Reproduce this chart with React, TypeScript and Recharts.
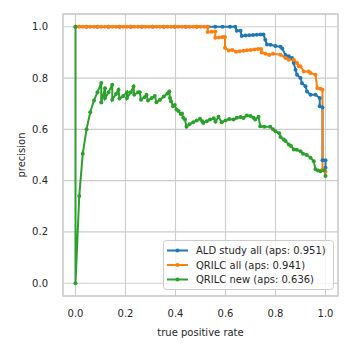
import React from "react";
import {
  LineChart,
  Line,
  XAxis,
  YAxis,
  CartesianGrid,
  ReferenceArea,
  Legend,
} from "recharts";

const xTicks = [0, 0.2, 0.4, 0.6, 0.8, 1.0];
const yTicks = [0, 0.2, 0.4, 0.6, 0.8, 1.0];

const seriesNames = [
  "ALD study all (aps: 0.951)",
  "QRILC all (aps: 0.941)",
  "QRILC new (aps: 0.636)",
];

// ALD study all
const aldRecall = [
  0, 0.044, 0.088, 0.132, 0.176, 0.221, 0.265, 0.309, 0.353, 0.397, 0.441, 0.485, 0.529, 0.559,
  0.588, 0.618, 0.639, 0.645, 0.66, 0.665, 0.68, 0.695, 0.71, 0.725, 0.74, 0.752, 0.759, 0.766,
  0.78, 0.8, 0.82, 0.827, 0.84, 0.853, 0.866, 0.873, 0.88, 0.886, 0.9, 0.906, 0.92, 0.926, 0.94,
  0.96, 0.977, 0.977, 0.988, 0.988, 1.0, 1.0,
];
const aldPrecision = [
  1, 1, 1, 1, 1, 1, 1, 1, 1, 1, 1, 1, 1, 1,
  1, 1, 1, 0.985, 0.985, 0.964, 0.966, 0.967, 0.968, 0.969, 0.97, 0.97, 0.95, 0.931,
  0.93, 0.925, 0.922, 0.915, 0.89, 0.885, 0.878, 0.859, 0.833, 0.813, 0.8, 0.78, 0.768, 0.748, 0.735,
  0.735, 0.722, 0.69, 0.685, 0.48, 0.48, 0.45,
];

// QRILC all
const qrilcAllRecall = [
  0, 0.015, 0.029, 0.044, 0.059, 0.074, 0.088, 0.103, 0.118, 0.132, 0.147, 0.162, 0.176, 0.191,
  0.206, 0.221, 0.235, 0.25, 0.265, 0.279, 0.294, 0.309, 0.324, 0.338, 0.353, 0.368, 0.382, 0.397,
  0.412, 0.426, 0.441, 0.456, 0.471, 0.485, 0.5, 0.515, 0.529,
  0.529, 0.544, 0.559, 0.559, 0.574, 0.588, 0.598, 0.598, 0.613, 0.627, 0.642, 0.657, 0.672, 0.686,
  0.701, 0.716, 0.73, 0.742, 0.745, 0.76, 0.775, 0.79, 0.82, 0.84, 0.853, 0.873, 0.886, 0.893,
  0.9, 0.913, 0.933, 0.94, 0.96, 0.967, 0.98, 0.988, 0.988, 1.0,
];
const qrilcAllPrecision = [
  1, 1, 1, 1, 1, 1, 1, 1, 1, 1, 1, 1, 1, 1,
  1, 1, 1, 1, 1, 1, 1, 1, 1, 1, 1, 1, 1, 1,
  1, 1, 1, 1, 1, 1, 1, 1, 1,
  0.98, 0.981, 0.982, 0.957, 0.958, 0.96, 0.96, 0.918, 0.908, 0.91, 0.903, 0.905, 0.907, 0.909,
  0.91, 0.912, 0.913, 0.913, 0.9, 0.895, 0.89, 0.895, 0.891, 0.878, 0.872, 0.872, 0.859, 0.846,
  0.846, 0.826, 0.826, 0.82, 0.813, 0.761, 0.758, 0.755, 0.444, 0.435,
];

// QRILC new
const qrilcNewRecall = [
  0, 0, 0.015, 0.029, 0.044, 0.059, 0.074, 0.088, 0.103, 0.103, 0.118, 0.118, 0.132, 0.147, 0.147,
  0.162, 0.172, 0.176, 0.191, 0.206, 0.206, 0.221, 0.232, 0.235, 0.25, 0.257, 0.262, 0.276, 0.284,
  0.29, 0.305, 0.317, 0.324, 0.338, 0.353, 0.368, 0.375, 0.378, 0.382, 0.39, 0.397, 0.404, 0.412,
  0.421, 0.426, 0.431, 0.438, 0.444, 0.456, 0.471, 0.485, 0.498, 0.507, 0.511, 0.525, 0.538, 0.553,
  0.56, 0.572, 0.585, 0.6, 0.615, 0.632, 0.645, 0.66, 0.672, 0.685, 0.7, 0.712, 0.719, 0.732,
  0.739, 0.755, 0.779, 0.79, 0.8, 0.815, 0.82, 0.833, 0.84, 0.853, 0.862, 0.873, 0.885, 0.9,
  0.91, 0.925, 0.94, 0.953, 0.96, 0.97, 0.98, 0.995, 1.0,
];
const qrilcNewPrecision = [
  1, 0, 0.34, 0.505, 0.6, 0.667, 0.713, 0.745, 0.781, 0.705, 0.76, 0.722, 0.745, 0.774, 0.716,
  0.738, 0.755, 0.72, 0.73, 0.745, 0.722, 0.745, 0.767, 0.735, 0.745, 0.745, 0.716, 0.725, 0.735,
  0.713, 0.722, 0.73, 0.706, 0.716, 0.728, 0.74, 0.748, 0.722, 0.71, 0.69, 0.695, 0.677, 0.672,
  0.66, 0.662, 0.645, 0.638, 0.61, 0.62, 0.628, 0.635, 0.641, 0.632, 0.625, 0.632, 0.638, 0.643,
  0.63, 0.649, 0.628, 0.635, 0.64, 0.638, 0.645, 0.648, 0.644, 0.654, 0.652, 0.645, 0.638, 0.649,
  0.612, 0.61, 0.61, 0.6, 0.593, 0.585, 0.57, 0.56, 0.555, 0.541, 0.535, 0.521, 0.52, 0.515,
  0.505, 0.5, 0.489, 0.476, 0.444, 0.44, 0.437, 0.441, 0.418,
];

const colors = ["#1f77b4", "#ff7f0e", "#2ca02c"];

const toPoints = (xs: number[], ys: number[]) => xs.map((x, i) => ({ x, y: ys[i] }));

const series = [
  { name: seriesNames[0], data: toPoints(aldRecall, aldPrecision), color: colors[0] },
  { name: seriesNames[1], data: toPoints(qrilcAllRecall, qrilcAllPrecision), color: colors[1] },
  { name: seriesNames[2], data: toPoints(qrilcNewRecall, qrilcNewPrecision), color: colors[2] },
];

const FONT = "DejaVu Sans";
const TEXT = "#262626";
const GRID = "#cccccc";

const fmt = (v: number) => v.toFixed(1);

const LegendBox = () => (
  <svg width={171} height={50} style={{ display: "block" }}>
    <rect x={0.5} y={0.5} width={170} height={49} rx={3} ry={3} fill="#ffffff" fillOpacity={0.8} stroke={GRID} strokeWidth={1} />
    {series.map((s, i) => {
      const cy = 10.5 + i * 14.5;
      return (
        <g key={s.name}>
          <line x1={4} x2={25} y1={cy} y2={cy} stroke={s.color} strokeWidth={2} />
          <circle cx={14.5} cy={cy} r={2} fill={s.color} />
          <text x={33} y={cy} dominantBaseline="central" fontFamily={FONT} fontSize={10} fill={TEXT}>
            {s.name}
          </text>
        </g>
      );
    })}
  </svg>
);

export default function App() {
  return (
    <div style={{ position: "absolute", left: 0, top: 0, width: 352, height: 352, background: "#fff" }}>
      <LineChart width={352} height={352} margin={{ top: 14, right: 14, left: 0, bottom: 0 }}>
        <CartesianGrid stroke={GRID} strokeWidth={1.1} />
        <XAxis
          type="number"
          dataKey="x"
          domain={[-0.05, 1.05]}
          ticks={xTicks}
          tickFormatter={fmt}
          allowDataOverflow
          axisLine={false}
          tickLine={false}
          tickSize={0}
          tickMargin={14}
          height={56}
          tick={{ fontFamily: FONT, fontSize: 10, fill: TEXT }}
          label={{
            content: (props: any) => {
              const vb = props.viewBox;
              return (
                <text x={vb.x + vb.width / 2} y={vb.y + 36} textAnchor="middle" dominantBaseline="central" fontFamily={FONT} fontSize={10} fill={TEXT}>
                  true positive rate
                </text>
              );
            },
          }}
        />
        <YAxis
          type="number"
          dataKey="y"
          domain={[-0.05, 1.05]}
          ticks={yTicks}
          tickFormatter={fmt}
          allowDataOverflow
          axisLine={false}
          tickLine={false}
          tickSize={0}
          tickMargin={15}
          width={63}
          tick={{ fontFamily: FONT, fontSize: 10, fill: TEXT }}
          label={{
            content: (props: any) => {
              const vb = props.viewBox;
              const cx = vb.x + 21;
              const cy = vb.y + vb.height / 2;
              return (
                <text x={cx} y={cy} transform={`rotate(-90, ${cx}, ${cy})`} textAnchor="middle" dominantBaseline="central" fontFamily={FONT} fontSize={10} fill={TEXT}>
                  precision
                </text>
              );
            },
          }}
        />
        <ReferenceArea x1={-0.05} x2={1.05} y1={-0.05} y2={1.05} fill="none" fillOpacity={0} stroke={GRID} strokeWidth={1.3} ifOverflow="visible" />
        {series.map((s) => (
          <Line
            key={s.name}
            name={s.name}
            data={s.data}
            dataKey="y"
            type="linear"
            stroke={s.color}
            strokeWidth={2}
            dot={{ r: 2, fill: s.color, stroke: s.color, strokeWidth: 0 }}
            activeDot={false}
            isAnimationActive={false}
          />
        ))}
        <Legend
          layout="horizontal"
          verticalAlign="middle"
          align="center"
          content={() => <LegendBox />}
          wrapperStyle={{ left: 163, top: 240, width: 171, height: 50 }}
        />
      </LineChart>
    </div>
  );
}
